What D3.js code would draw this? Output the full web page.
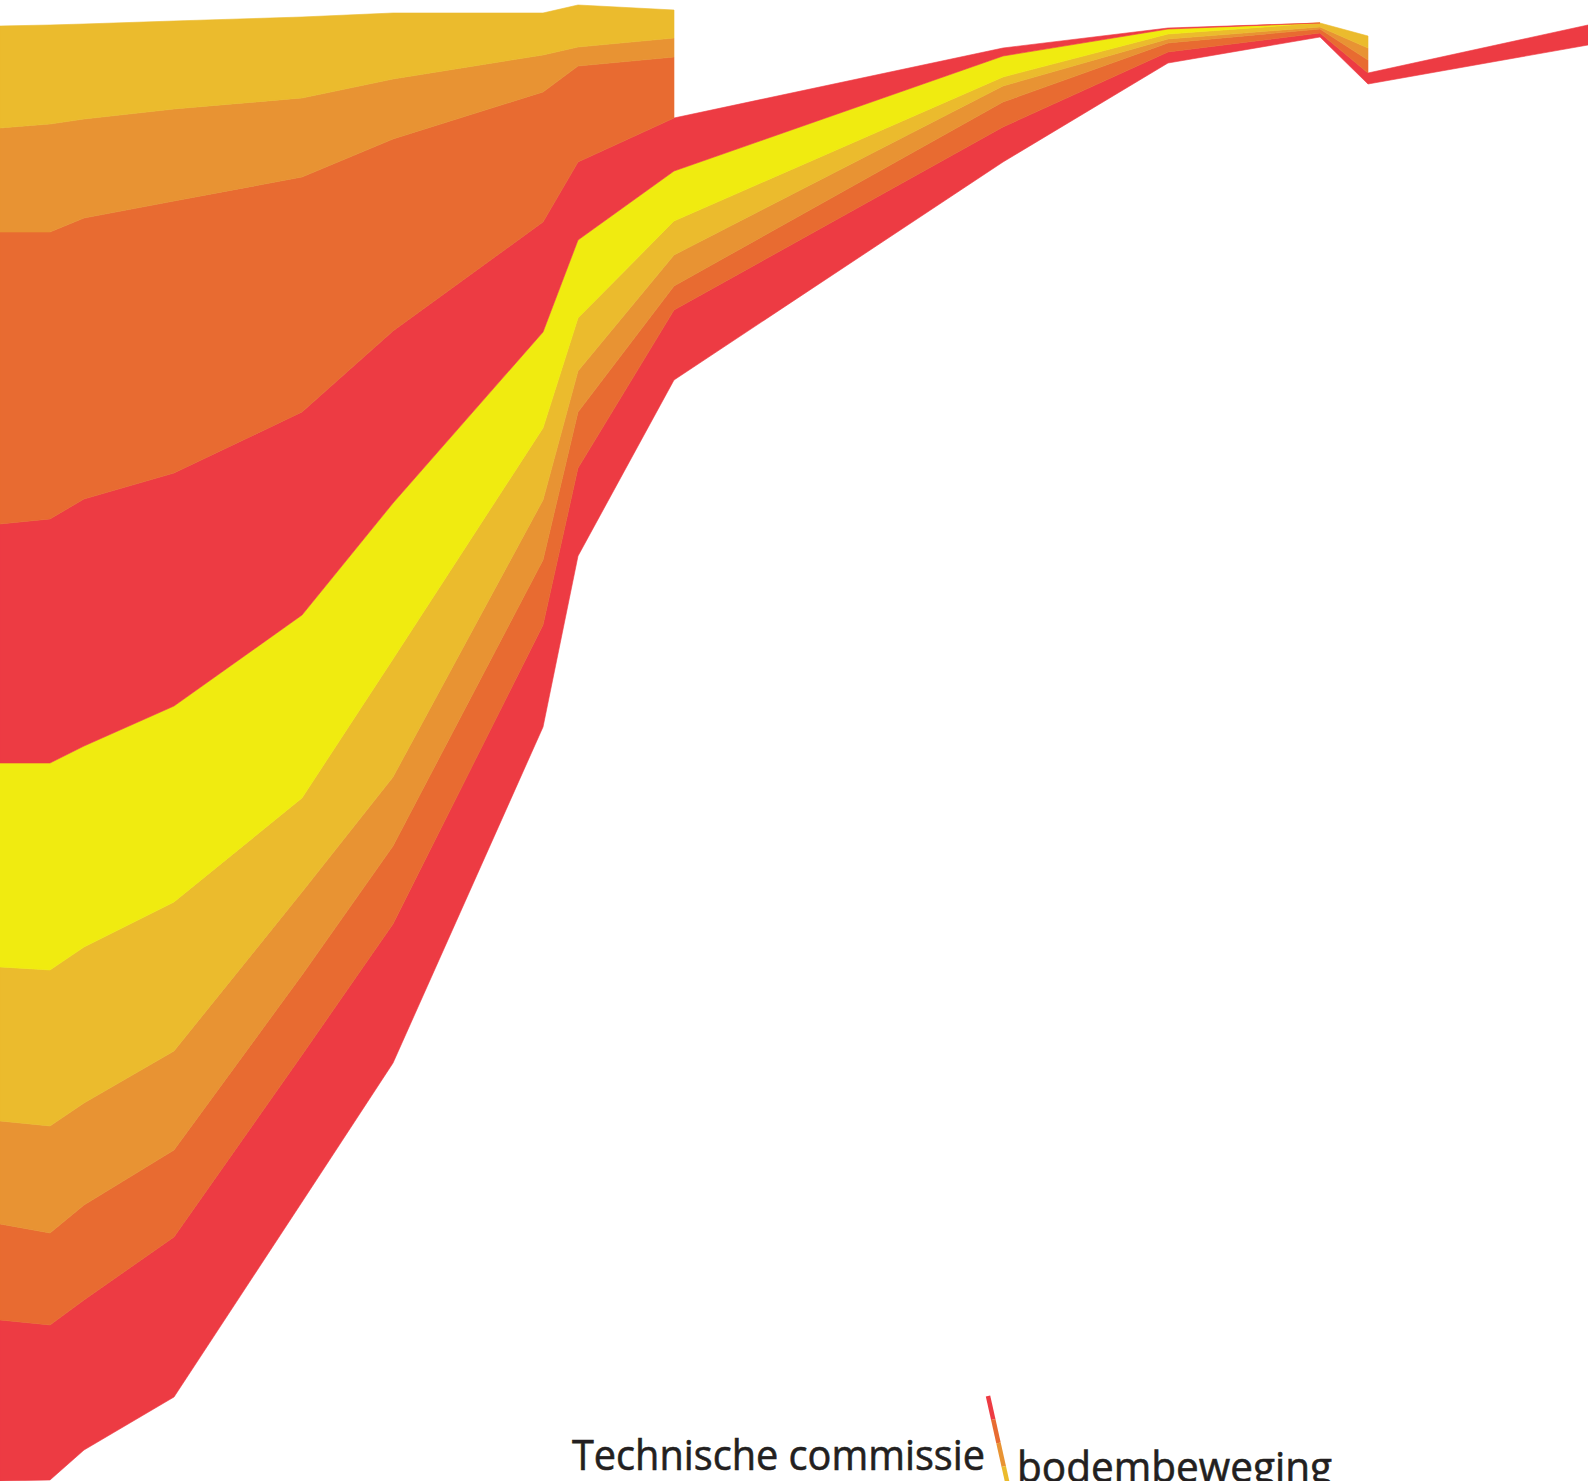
<!DOCTYPE html>
<html>
<head>
<meta charset="utf-8">
<script src="https://cdn.jsdelivr.net/npm/d3@7"></script>
<style>
  html, body { margin: 0; padding: 0; background: #fff; overflow: hidden; }
  svg { display: block; }
</style>
</head>
<body>
<svg id="chart" width="1588" height="1481"></svg>
<script>
// ---- data ----
const xValues = [0, 50, 84, 174, 302, 393, 543, 578, 674, 1003, 1168, 1320, 1368, 1588];
// invisible offset below the lowest band
const baseOffset = [0, 1, 31, 84, 279, 418, 754, 925, 1101, 1319, 1418, 1444, 1397, 1436];
const red1    = [161, 155, 150, 160, 147, 139, 102, 88, 70, 35, 11, 4, 11, 20];
const dko1    = [96, 92, 95, 87, 80, 78, 65, 56, 24, 25, 9, 4, 13, null];
const orange1 = [103, 107, 102, 99, 83, 69, 60, 41, 31, 16, 4, 2, 12, null];
const gold1   = [154, 156, 156, 149, 94, 118, 72, 53, 34, 9, 5, 4, 12, null];
const yellow  = [204, 207, 201, 196, 183, 156, 96, 78, 50, 21, 5, 0, null, null];
const red2    = [239, 244, 247, 233, 203, 172, 110, 78, 53, 8, 1, 0, null, null];
const dko2    = [292, 287, 281, 272, 235, 192, 130, 96, 61, null, null, null, null, null];
const orange2 = [104, 108, 99, 92, 79, 60, 37, 19, 19, null, null, null, null, null];
const gold2   = [102, 99, 95, 88, 81, 66, 42, 42, 28, null, null, null, null, null];

const seriesKeys   = ["base", "red1", "dko1", "orange1", "gold1", "yellow", "red2", "dko2", "orange2", "gold2"];
const seriesArrays = [baseOffset, red1, dko1, orange1, gold1, yellow, red2, dko2, orange2, gold2];
const seriesColors = ["none", "#ED3B43", "#E86B31", "#E89333", "#EBBB2D", "#F0EB10", "#ED3B43", "#E86B31", "#E89333", "#EBBB2D"];

const labelLeft  = "Technische commissie";
const labelRight = "bodembeweging";
const legendColors = ["#ED3B43", "#E86B31", "#E89333", "#EBBB2D"];

// ---- build table ----
const table = xValues.map((x, i) => {
  const row = { x };
  seriesKeys.forEach((k, j) => { row[k] = seriesArrays[j][i]; });
  return row;
});

const W = 1588, H = 1481;
const svg = d3.select("#chart");

const xScale = d3.scaleLinear().domain([0, 1588]).range([0, W]);
const yScale = d3.scaleLinear().domain([0, 1481]).range([H, 0]);

const stack = d3.stack()
  .keys(seriesKeys)
  .value((d, k) => d[k] == null ? 0 : d[k]);

const stacked = stack(table);

stacked.forEach((layer, j) => {
  if (j === 0) return;
  const key = layer.key;
  const area = d3.area()
    .defined(d => d.data[key] != null)
    .x(d => xScale(d.data.x))
    .y0(d => yScale(d[0]))
    .y1(d => yScale(d[1]))
    .curve(d3.curveLinear);
  svg.append("path")
    .datum(layer)
    .attr("d", area)
    .attr("fill", seriesColors[j])
    .attr("stroke", seriesColors[j])
    .attr("stroke-width", 0.6)
    .attr("stroke-linejoin", "miter");
});

// ---- small slanted legend strip ----
const legY = d3.scaleLinear().domain([0, legendColors.length]).range([1396, 1490]);
const legX = d3.scaleLinear().domain([1396, 1490]).range([988, 1009]);
legendColors.forEach((c, i) => {
  const y0 = legY(i), y1 = legY(i + 1);
  svg.append("line")
    .attr("x1", legX(y0)).attr("y1", y0)
    .attr("x2", legX(y1)).attr("y2", y1)
    .attr("stroke", c)
    .attr("stroke-width", 4.5);
});

// ---- labels ----
svg.append("text")
  .attr("x", 572).attr("y", 1470)
  .attr("font-family", "'Open Sans', 'Noto Sans', sans-serif")
  .attr("font-size", 42)
  .attr("fill", "#231F20")
  .attr("stroke", "#231F20")
  .attr("stroke-width", 0.6)
  .attr("textLength", 413)
  .attr("lengthAdjust", "spacingAndGlyphs")
  .text(labelLeft);

svg.append("text")
  .attr("x", 1017).attr("y", 1482)
  .attr("font-family", "'Open Sans', 'Noto Sans', sans-serif")
  .attr("font-size", 42)
  .attr("fill", "#231F20")
  .attr("stroke", "#231F20")
  .attr("stroke-width", 0.6)
  .attr("textLength", 315)
  .attr("lengthAdjust", "spacingAndGlyphs")
  .text(labelRight);
</script>
</body>
</html>
